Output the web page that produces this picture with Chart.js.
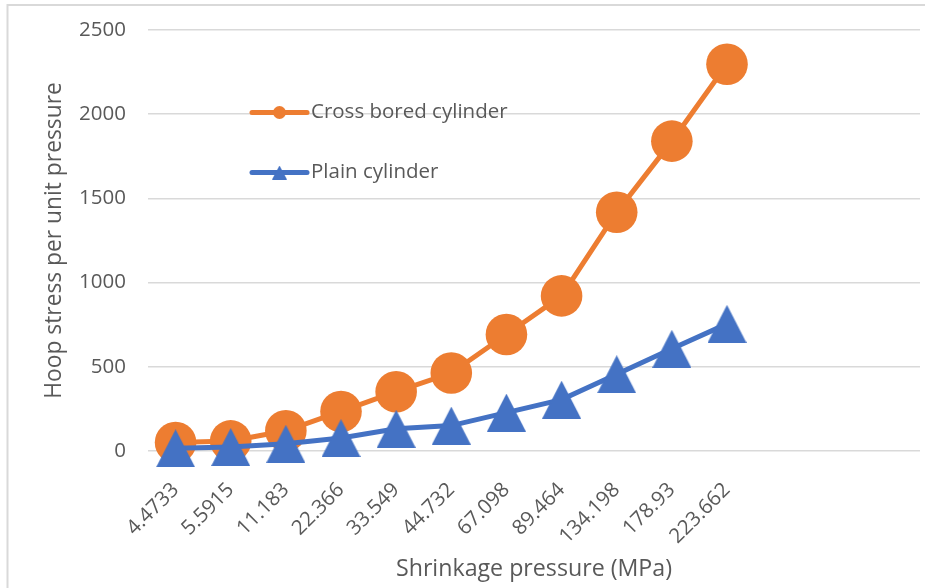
<!DOCTYPE html>
<html>
<head>
<meta charset="utf-8">
<title>Hoop stress per unit pressure</title>
<script src="https://cdn.jsdelivr.net/npm/chart.js@4/dist/chart.umd.min.js"></script>
<style>
  html, body { margin: 0; padding: 0; background: #ffffff; }
  #wrap { width: 925px; height: 588px; position: relative; }
</style>
</head>
<body>
<div id="wrap"><canvas id="chart" width="925" height="588"></canvas></div>
<script>
// Shrinkage pressure categories (MPa)
const pressureLabels = ['4.4733', '5.5915', '11.183', '22.366', '33.549', '44.732',
                        '67.098', '89.464', '134.198', '178.93', '223.662'];
// Hoop stress per unit pressure
const crossBored = [50, 60, 120, 235, 352, 463, 692, 921, 1418, 1840, 2297];
const plainCyl   = [16, 24, 43, 77, 132, 151, 228, 305, 456, 607, 755];
// Y axis ticks
const yTicks = [0, 500, 1000, 1500, 2000, 2500];

const ORANGE = '#ED7D31';
const BLUE = '#4472C4';
const TEXT = '#595959';
const GRID = '#d9d9d9';
const FONT = "'Open Sans', 'DejaVu Sans', sans-serif";

// Triangle marker whose bounding box is centred on the point
function triangleMarker(w, h, color) {
  const c = document.createElement('canvas');
  c.width = w; c.height = h;
  const g = c.getContext('2d');
  g.fillStyle = color;
  g.beginPath();
  g.moveTo(w / 2, 0);
  g.lineTo(w, h);
  g.lineTo(0, h);
  g.closePath();
  g.fill();
  return c;
}
const bigTriangle = triangleMarker(39, 38, BLUE);
const smallTriangle = triangleMarker(15, 14, BLUE);

// Chart frame (left and top edges)
const framePlugin = {
  id: 'frame',
  beforeDraw(chart) {
    const ctx = chart.ctx;
    ctx.save();
    ctx.strokeStyle = GRID;
    ctx.lineWidth = 2;
    ctx.beginPath();
    ctx.moveTo(7.5, 588);
    ctx.lineTo(7.5, 5);
    ctx.lineTo(925, 5);
    ctx.stroke();
    ctx.restore();
  }
};

// Legend drawn inside the plot area: line sample with marker, then label
const insideLegend = {
  id: 'insideLegend',
  afterDatasetsDraw(chart) {
    const ctx = chart.ctx;
    const rows = [
      { ds: chart.data.datasets[0], y: 112.5, marker: 'circle' },
      { ds: chart.data.datasets[1], y: 172.5, marker: smallTriangle }
    ];
    const x0 = 252, x1 = 307, tx = 311;
    ctx.save();
    rows.forEach(r => {
      ctx.strokeStyle = r.ds.borderColor;
      ctx.lineWidth = 5;
      ctx.lineCap = 'round';
      ctx.beginPath();
      ctx.moveTo(x0, r.y);
      ctx.lineTo(x1, r.y);
      ctx.stroke();
      const cx = (x0 + x1) / 2;
      if (r.marker === 'circle') {
        ctx.fillStyle = r.ds.backgroundColor;
        ctx.beginPath();
        ctx.arc(cx, r.y, 6.5, 0, Math.PI * 2);
        ctx.fill();
      } else {
        ctx.drawImage(r.marker, cx - r.marker.width / 2, r.y - r.marker.height / 2);
      }
      ctx.fillStyle = TEXT;
      ctx.font = '20.5px ' + FONT;
      ctx.textAlign = 'left';
      ctx.textBaseline = 'middle';
      ctx.fillText(r.ds.label, tx, r.y);
    });
    ctx.restore();
  }
};

new Chart(document.getElementById('chart'), {
  type: 'line',
  data: {
    labels: [...pressureLabels, '', '', ''],
    datasets: [
      {
        label: 'Cross bored cylinder',
        data: crossBored,
        borderColor: ORANGE,
        backgroundColor: ORANGE,
        borderWidth: 5,
        pointStyle: 'circle',
        pointRadius: 20.8,
        pointBorderWidth: 0,
        pointHoverRadius: 20.8,
        tension: 0,
        clip: false,
        order: 1
      },
      {
        label: 'Plain cylinder',
        data: plainCyl,
        borderColor: BLUE,
        backgroundColor: BLUE,
        borderWidth: 5,
        pointStyle: bigTriangle,
        pointRadius: 20,
        pointBorderWidth: 0,
        tension: 0,
        clip: false,
        order: 0
      }
    ]
  },
  options: {
    responsive: false,
    animation: false,
    devicePixelRatio: 1,
    layout: { autoPadding: false, padding: { left: 0, top: 30, right: 5, bottom: 0 } },
    plugins: {
      legend: { display: false },
      tooltip: { enabled: false }
    },
    scales: {
      x: {
        type: 'category',
        offset: true,
        grid: { display: false, drawTicks: false },
        border: { display: false },
        ticks: {
          autoSkip: false,
          maxRotation: 45,
          minRotation: 45,
          padding: 27,
          color: TEXT,
          font: { family: FONT, size: 20.5 }
        },
        title: {
          display: true,
          text: 'Shrinkage pressure (MPa)',
          color: TEXT,
          font: { family: FONT, size: 23.2 },
          padding: { top: 0, bottom: 4.6 }
        },
        afterFit(scale) {
          scale.height = 137;
          scale.paddingLeft = 0;
          scale.paddingRight = 0;
        }
      },
      y: {
        min: yTicks[0],
        max: yTicks[yTicks.length - 1],
        grid: { color: GRID, lineWidth: 1.5, drawTicks: false },
        border: { display: false },
        afterBuildTicks(scale) { scale.ticks = yTicks.map(v => ({ value: v })); },
        ticks: {
          padding: 22,
          color: TEXT,
          font: { family: FONT, size: 20.5 },
          callback: (v) => String(v)
        },
        title: {
          display: true,
          text: 'Hoop stress per unit pressure',
          color: TEXT,
          font: { family: FONT, size: 22.8 },
          padding: { top: 41, bottom: 0 }
        },
        afterFit(scale) {
          scale.width = 148;
          scale.paddingTop = 0;
          scale.paddingBottom = 0;
        }
      }
    }
  },
  plugins: [framePlugin, insideLegend]
});
</script>
</body>
</html>
